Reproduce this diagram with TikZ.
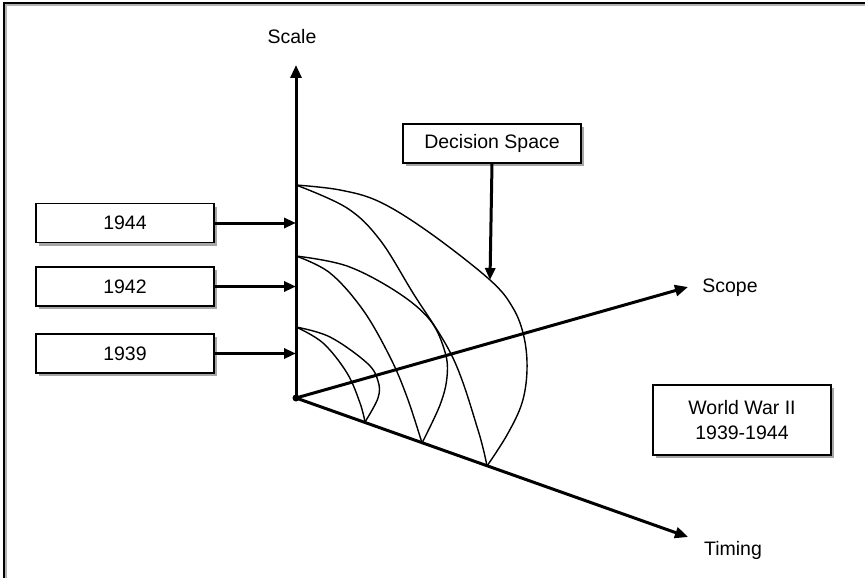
\documentclass[tikz,border=0pt]{standalone}
\usepackage{fontspec}
\setmainfont{Liberation Sans}
\usetikzlibrary{arrows.meta,shadows}
\begin{document}
\begin{tikzpicture}[x=1pt,y=-1pt,
  lbl/.style={font=\fontsize{19.5}{24}\selectfont, inner sep=0pt},
  yearbox/.style={draw=black, line width=1.4pt, fill=white, minimum width=178pt,
    minimum height=39pt, inner sep=0pt, align=center,
    font=\fontsize{19.5}{25}\selectfont,
    drop shadow={shadow xshift=3pt, shadow yshift=-3pt, fill=gray!70, opacity=1}},
  axisline/.style={line width=3pt, -{Triangle[length=13pt,width=11pt]}},
  pointer/.style={line width=3pt, -{Triangle[length=12pt,width=10pt]}},
  curve/.style={line width=1.4pt, smooth, tension=0.6}]
\useasboundingbox (0,0) rectangle (865,578);
% frame
\draw[gray!60, line width=1.5pt] (6,578) -- (6,5) -- (865,5);
\draw[line width=2pt] (4,578) -- (4,3) -- (865,3);

% axes
\coordinate (O) at (296,398);
\coordinate (sctip) at (296,65);
\coordinate (sptip) at (688,287);
\coordinate (tmtip) at (688,537);
\node[lbl] (scalelbl) at (292,37) {Scale};
\node[lbl] (scopelbl) at (730,288) {Scope};
\node[lbl] (timinglbl) at (733,550) {Timing};

% curves
\coordinate (s1) at (296,327);
\coordinate (s2) at (296,256);
\coordinate (s3) at (296,185);
\coordinate (t1) at (365,422);
\coordinate (t2) at (422,443);
\coordinate (t3) at (487,466);
\draw[curve] plot coordinates {(s3) (340,190) (380,202) (430,233) (490,280) (513,308) (524,337) (527,370) (522,403) (507,435) (t3)};
\draw[curve] plot coordinates {(s3) (347,208) (380,240) (413,293) (453,358) (478,430) (t3)};
\draw[curve] plot coordinates {(s2) (347,266) (397,292) (430,320) (445,352) (447,377) (440,405) (t2)};
\draw[curve] plot coordinates {(s2) (330,273) (363,310) (390,357) (407,397) (t2)};
\draw[curve] plot coordinates {(s1) (330,337) (367,363) (378,381) (378,398) (t1)};
\draw[curve] plot coordinates {(s1) (323,343) (347,373) (360,403) (t1)};

\draw[axisline] (O) -- (sctip);
\draw[axisline] (O) -- (sptip);
\draw[axisline] (O) -- (tmtip);
\fill (O) circle (3.5pt);

% boxes
\node[yearbox] (y44) at (125,223) {1944};
\node[yearbox] (y42) at (125,286.5) {1942};
\node[yearbox] (y39) at (125,353.5) {1939};
\node[yearbox] (ds) at (492,143.5) {Decision Space};
\node[yearbox, minimum height=70pt] (ww) at (742,420) {World War II\\1939-1944};

\draw[pointer] (y44.east) -- (y44.east -| O);
\draw[pointer] (y42.east) -- (y42.east -| O);
\draw[pointer] (y39.east) -- (y39.east -| O);
\coordinate (dstip) at (490,280);
\draw[pointer] (ds.south) -- (dstip);
\end{tikzpicture}
\end{document}
